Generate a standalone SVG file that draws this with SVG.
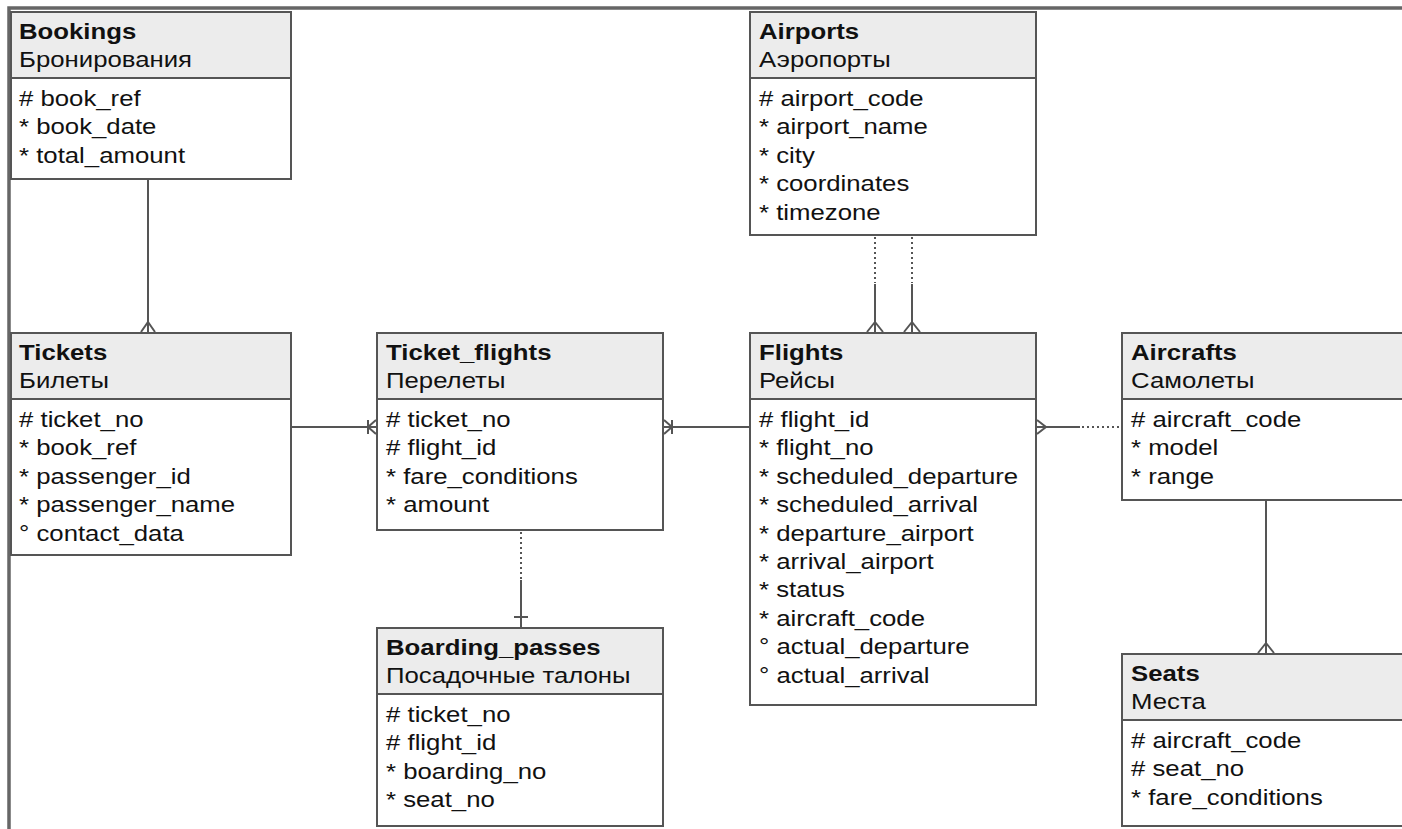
<svg xmlns="http://www.w3.org/2000/svg" width="1402" height="829" viewBox="0 0 1402 829">
<style>
.box{fill:#fff;stroke:#555;stroke-width:2}
.hdr{fill:#ececec;stroke:#555;stroke-width:2}
.t{font-family:"Liberation Sans",Arial,sans-serif;font-size:23px;fill:#111}
.b{font-weight:bold}
.ln{stroke:#555;stroke-width:2;fill:none}
.dot{stroke:#555;stroke-width:2;fill:none;stroke-dasharray:2 3}
.frame{stroke:#666;stroke-width:3.5;fill:none}
</style>
<rect width="1402" height="829" fill="#fff"/>
<path class="frame" d="M9 829 V8 H1402"/>

<g id="bookings">
<rect class="box" x="11" y="12" width="280" height="167"/>
<rect class="hdr" x="11" y="12" width="280" height="66"/>
<g transform="translate(19,0) scale(1.12,1)">
<text class="t b" x="0" y="39">Bookings</text>
<text class="t" x="0" y="67">Бронирования</text>
<text class="t" x="0" y="106"># book_ref</text>
<text class="t" x="0" y="134.4">* book_date</text>
<text class="t" x="0" y="162.8">* total_amount</text>
</g>
</g>

<g id="airports">
<rect class="box" x="750" y="12" width="286" height="223"/>
<rect class="hdr" x="750" y="12" width="286" height="66"/>
<g transform="translate(759,0) scale(1.12,1)">
<text class="t b" x="0" y="39">Airports</text>
<text class="t" x="0" y="67">Аэропорты</text>
<text class="t" x="0" y="106"># airport_code</text>
<text class="t" x="0" y="134.4">* airport_name</text>
<text class="t" x="0" y="162.8">* city</text>
<text class="t" x="0" y="191.2">* coordinates</text>
<text class="t" x="0" y="219.6">* timezone</text>
</g>
</g>

<g id="tickets">
<rect class="box" x="11" y="333" width="280" height="222"/>
<rect class="hdr" x="11" y="333" width="280" height="66"/>
<g transform="translate(19,0) scale(1.12,1)">
<text class="t b" x="0" y="360">Tickets</text>
<text class="t" x="0" y="388">Билеты</text>
<text class="t" x="0" y="427"># ticket_no</text>
<text class="t" x="0" y="455.4">* book_ref</text>
<text class="t" x="0" y="483.8">* passenger_id</text>
<text class="t" x="0" y="512.2">* passenger_name</text>
<text class="t" x="0" y="540.6">° contact_data</text>
</g>
</g>

<g id="ticket_flights">
<rect class="box" x="377" y="333" width="286" height="197"/>
<rect class="hdr" x="377" y="333" width="286" height="66"/>
<g transform="translate(386,0) scale(1.12,1)">
<text class="t b" x="0" y="360">Ticket_flights</text>
<text class="t" x="0" y="388">Перелеты</text>
<text class="t" x="0" y="427"># ticket_no</text>
<text class="t" x="0" y="455.4"># flight_id</text>
<text class="t" x="0" y="483.8">* fare_conditions</text>
<text class="t" x="0" y="512.2">* amount</text>
</g>
</g>

<g id="flights">
<rect class="box" x="750" y="333" width="286" height="372"/>
<rect class="hdr" x="750" y="333" width="286" height="66"/>
<g transform="translate(759,0) scale(1.12,1)">
<text class="t b" x="0" y="360">Flights</text>
<text class="t" x="0" y="388">Рейсы</text>
<text class="t" x="0" y="427"># flight_id</text>
<text class="t" x="0" y="455.4">* flight_no</text>
<text class="t" x="0" y="483.8">* scheduled_departure</text>
<text class="t" x="0" y="512.2">* scheduled_arrival</text>
<text class="t" x="0" y="540.6">* departure_airport</text>
<text class="t" x="0" y="569">* arrival_airport</text>
<text class="t" x="0" y="597.4">* status</text>
<text class="t" x="0" y="625.8">* aircraft_code</text>
<text class="t" x="0" y="654.2">° actual_departure</text>
<text class="t" x="0" y="682.6">° actual_arrival</text>
</g>
</g>

<g id="aircrafts">
<rect class="box" x="1122" y="333" width="290" height="167"/>
<rect class="hdr" x="1122" y="333" width="290" height="66"/>
<g transform="translate(1131,0) scale(1.12,1)">
<text class="t b" x="0" y="360">Aircrafts</text>
<text class="t" x="0" y="388">Самолеты</text>
<text class="t" x="0" y="427"># aircraft_code</text>
<text class="t" x="0" y="455.4">* model</text>
<text class="t" x="0" y="483.8">* range</text>
</g>
</g>

<g id="boarding_passes">
<rect class="box" x="377" y="628" width="286" height="198"/>
<rect class="hdr" x="377" y="628" width="286" height="66"/>
<g transform="translate(386,0) scale(1.12,1)">
<text class="t b" x="0" y="655">Boarding_passes</text>
<text class="t" x="0" y="683">Посадочные талоны</text>
<text class="t" x="0" y="722"># ticket_no</text>
<text class="t" x="0" y="750.4"># flight_id</text>
<text class="t" x="0" y="778.8">* boarding_no</text>
<text class="t" x="0" y="807.2">* seat_no</text>
</g>
</g>

<g id="seats">
<rect class="box" x="1122" y="654" width="290" height="172"/>
<rect class="hdr" x="1122" y="654" width="290" height="66"/>
<g transform="translate(1131,0) scale(1.12,1)">
<text class="t b" x="0" y="681">Seats</text>
<text class="t" x="0" y="709">Места</text>
<text class="t" x="0" y="748"># aircraft_code</text>
<text class="t" x="0" y="776.4"># seat_no</text>
<text class="t" x="0" y="804.8">* fare_conditions</text>
</g>
</g>

<g id="connectors">
<!-- Bookings - Tickets -->
<path class="ln" d="M148 179 V332 M141 332 L148 322 L155 332"/>
<!-- Tickets - Ticket_flights -->
<path class="ln" d="M291 427 H376 M376 420 L368 427 L376 434 M368 420 V434"/>
<!-- Ticket_flights - Flights -->
<path class="ln" d="M664 427 H750 M664 420 L672 427 L664 434 M672 420 V434"/>
<!-- Flights - Aircrafts -->
<path class="ln" d="M1037 427 H1080 M1037 420 L1046 427 L1037 434"/>
<path class="dot" d="M1082 427 H1122"/>
<!-- Airports - Flights -->
<path class="dot" d="M875 237 V283"/>
<path class="ln" d="M875 284 V332 M867 332 L875 322 L883 332"/>
<path class="dot" d="M912 237 V283"/>
<path class="ln" d="M912 284 V332 M904 332 L912 322 L920 332"/>
<!-- Ticket_flights - Boarding_passes -->
<path class="dot" d="M521 532 V579"/>
<path class="ln" d="M521 580 V627 M514 617 H528"/>
<!-- Aircrafts - Seats -->
<path class="ln" d="M1266 500 V653 M1258 653 L1266 643 L1274 653"/>
</g>
</svg>
